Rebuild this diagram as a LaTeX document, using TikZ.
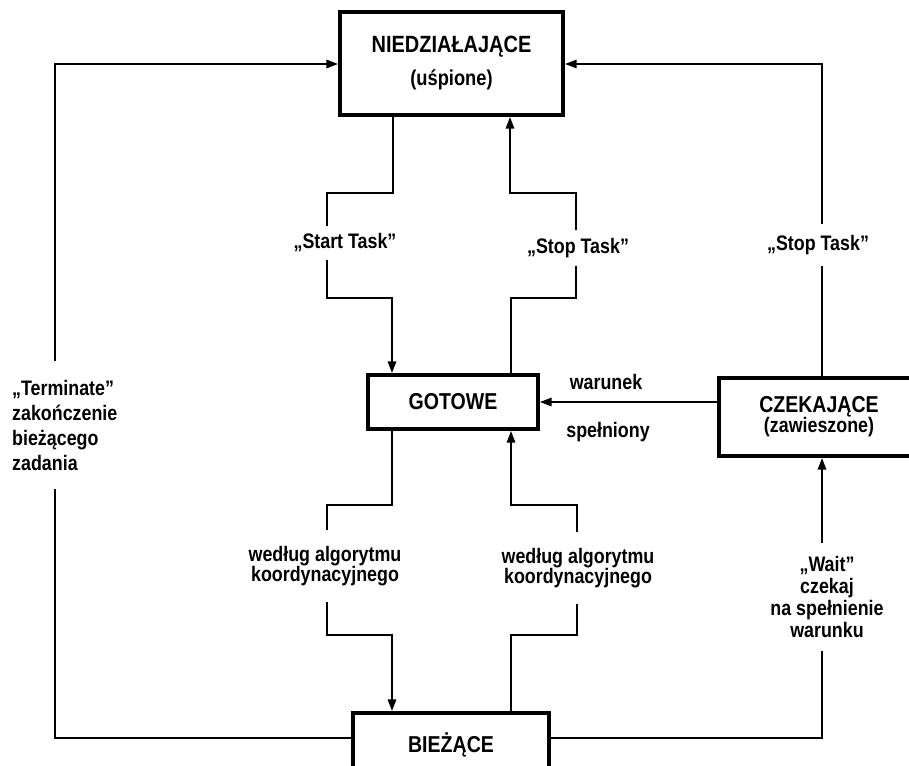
\documentclass[tikz,border=0pt]{standalone}
\usepackage{fontspec}
\setmainfont[FakeStretch=0.85]{Liberation Sans}
\usetikzlibrary{arrows.meta}
\begin{document}
\begin{tikzpicture}[x=1pt,y=-1pt,
  box/.style={draw, line width=3.2pt, inner sep=0pt, align=center},
  conn/.style={line width=2.8pt},
  arr/.style={conn, -{Triangle[length=12pt,width=8pt]}},
  lab/.style={inner xsep=1pt, align=center, font=\bfseries\fontsize{21}{23}\selectfont}]
\useasboundingbox (0,0) rectangle (909,765);
\clip (0,0) rectangle (909,765);

% states
\node[box, minimum width=223pt, minimum height=103pt, font=\bfseries\fontsize{23.5}{33}\selectfont] (nied) at (451.5,63.5) {NIEDZIAŁAJĄCE\\{\fontsize{21.5}{33}\selectfont(uśpione)}};
\node[box, minimum width=170pt, minimum height=54pt, font=\bfseries\fontsize{23}{25}\selectfont] (gotowe) at (453,402) {GOTOWE};
\node[box, minimum width=200pt, minimum height=78pt, font=\bfseries\fontsize{23}{20}\selectfont] (czek) at (819,417) {CZEKAJĄCE\\{\fontsize{21}{20}\selectfont(zawieszone)}};
\node[box, minimum width=196pt, minimum height=64pt, font=\bfseries\fontsize{23}{25}\selectfont] (biez) at (451,745) {BIEŻĄCE};

% labels
\node[lab, inner ysep=8pt] (lstart) at (345,243) {„Start Task”};
\node[lab, inner ysep=8pt] (lstop) at (578,248) {„Stop Task”};
\node[lab, inner ysep=11pt] (lstop2) at (818,245) {„Stop Task”};
\node[lab, inner ysep=16pt, font=\bfseries\fontsize{21}{20}\selectfont] (lwg1) at (325,566) {według algorytmu\\koordynacyjnego};
\node[lab, inner ysep=16pt, font=\bfseries\fontsize{21}{20}\selectfont] (lwg2) at (578,568) {według algorytmu\\koordynacyjnego};
\node[lab, inner ysep=13pt, font=\bfseries\fontsize{21}{22}\selectfont] (lwait) at (827,597) {„Wait”\\czekaj\\na spełnienie\\warunku};
\node[lab, anchor=west, align=left, inner xsep=0pt, inner ysep=19pt, font=\bfseries\fontsize{21}{25}\selectfont] (lterm) at (12,425) {„Terminate”\\zakończenie\\bieżącego\\zadania};
\node[lab] (lwar) at (606,382) {warunek};
\node[lab] (lspel) at (608,432) {spełniony};

% bend points
\coordinate (TL) at (55,64);
\coordinate (TR) at (822,64);
\coordinate (BL) at (55,738);
\coordinate (BR) at (822,738);
\coordinate (a1) at (393,193); \coordinate (a2) at (327,193);
\coordinate (a3) at (327,298); \coordinate (a4) at (392,298);
\coordinate (b1) at (511,298); \coordinate (b2) at (576,298);
\coordinate (b3) at (576,193); \coordinate (b4) at (510,193);
\coordinate (c1) at (392,505); \coordinate (c2) at (327,505);
\coordinate (c3) at (327,635); \coordinate (c4) at (392,635);
\coordinate (d1) at (511,635); \coordinate (d2) at (577,635);
\coordinate (d3) at (577,505); \coordinate (d4) at (511,505);

% Start Task
\draw[conn] (nied.south -| a1) -- (a1) -- (a2) -- (lstart.north -| a2);
\draw[arr] (lstart.south -| a3) -- (a3) -- (a4) -- (gotowe.north -| a4);
% Stop Task (middle)
\draw[conn] (gotowe.north -| b1) -- (b1) -- (b2) -- (lstop.south -| b2);
\draw[arr] (lstop.north -| b3) -- (b3) -- (b4) -- (nied.south -| b4);
% GOTOWE -> BIEZACE
\draw[conn] (gotowe.south -| c1) -- (c1) -- (c2) -- (lwg1.north -| c2);
\draw[arr] (lwg1.south -| c3) -- (c3) -- (c4) -- (biez.north -| c4);
% BIEZACE -> GOTOWE
\draw[conn] (biez.north -| d1) -- (d1) -- (d2) -- (lwg2.south -| d2);
\draw[arr] (lwg2.north -| d3) -- (d3) -- (d4) -- (gotowe.south -| d4);
% Terminate
\draw[conn] (biez.west |- BL) -- (BL) -- (lterm.south -| BL);
\draw[arr] (lterm.north -| TL) -- (TL) -- (nied.west |- TL);
% Stop Task (right)
\draw[conn] (czek.north -| TR) -- (lstop2.south -| TR);
\draw[arr] (lstop2.north -| TR) -- (TR) -- (nied.east |- TR);
% Wait
\draw[conn] (biez.east |- BR) -- (BR) -- (lwait.south -| BR);
\draw[arr] (lwait.north -| BR) -- (czek.south -| BR);
% warunek spelniony
\draw[arr] (czek.west |- gotowe.east) -- (gotowe.east);
\end{tikzpicture}
\end{document}
